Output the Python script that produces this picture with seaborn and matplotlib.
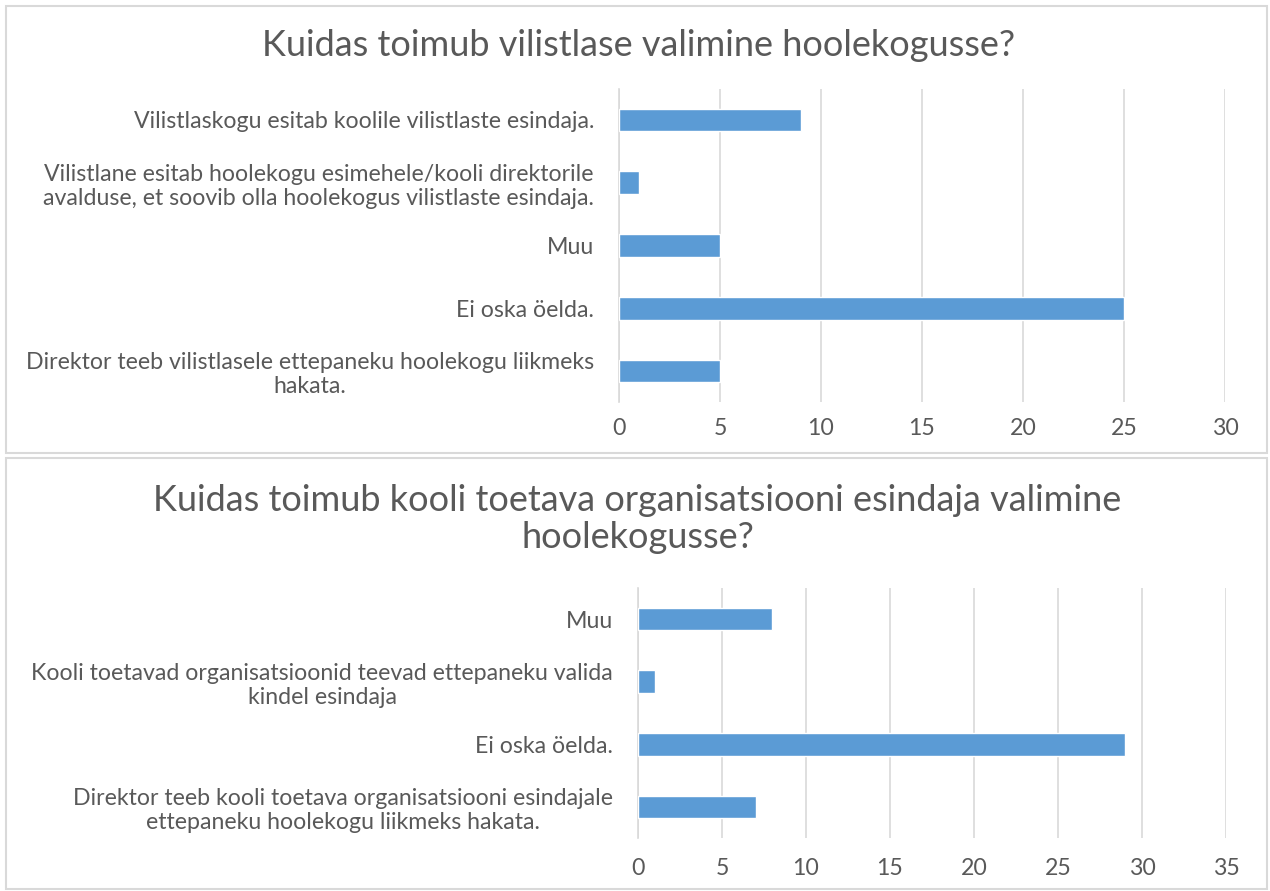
import pandas as pd
import matplotlib.pyplot as plt
import seaborn as sns
from matplotlib.patches import Rectangle

# top chart data
top_labels = [
    "Vilistlaskogu esitab koolile vilistlaste esindaja.",
    "Vilistlane esitab hoolekogu esimehele/kooli direktorile\navalduse, et soovib olla hoolekogus vilistlaste esindaja.",
    "Muu",
    "Ei oska öelda.",
    "Direktor teeb vilistlasele ettepaneku hoolekogu liikmeks\nhakata.",
]
top_values = [9, 1, 5, 25, 5]
top_ticks = [0, 5, 10, 15, 20, 25, 30]

# bottom chart data
bottom_labels = [
    "Muu",
    "Kooli toetavad organisatsioonid teevad ettepaneku valida\nkindel esindaja",
    "Ei oska öelda.",
    "Direktor teeb kooli toetava organisatsiooni esindajale\nettepaneku hoolekogu liikmeks hakata.",
]
bottom_values = [8, 1, 29, 7]
bottom_ticks = [0, 5, 10, 15, 20, 25, 30, 35]

top_title = "Kuidas toimub vilistlase valimine hoolekogusse?"
bottom_title = "Kuidas toimub kooli toetava organisatsiooni esindaja valimine\nhoolekogusse?"

BAR = "#5B9BD5"
TEXT = "#595959"
GRID = "#D9D9D9"

sns.set_style("white")
plt.rcParams['font.family'] = ['Lato', 'DejaVu Sans']

fig = plt.figure(figsize=(12.7, 8.91), dpi=100)

# panel frames
fig.add_artist(Rectangle((6/1270, 1-453/891), 1261/1270, 447/891, transform=fig.transFigure,
                         fill=False, edgecolor=GRID, lw=1.5))
fig.add_artist(Rectangle((6/1270, 1-889/891), 1261/1270, 431/891, transform=fig.transFigure,
                         fill=False, edgecolor=GRID, lw=1.5))


def draw(ax, labels, values, ticks, xpad):
    df = pd.DataFrame({"label": labels, "value": values})
    sns.barplot(data=df, x="value", y="label", orient="h", color=BAR,
                saturation=1, width=0.36, ax=ax, zorder=3)
    ax.set_xlim(ticks[0], ticks[-1])
    ax.set_xticks(ticks)
    ax.set_xlabel("")
    ax.set_ylabel("")
    ax.grid(axis="x", color=GRID, lw=1.2, zorder=0)
    ax.grid(axis="y", visible=False)
    for s in ["top", "right", "bottom"]:
        ax.spines[s].set_visible(False)
    ax.spines["left"].set_color(GRID)
    ax.spines["left"].set_linewidth(1.2)
    ax.tick_params(axis="both", length=0, labelsize=16.7, colors=TEXT)
    ax.tick_params(axis="x", pad=xpad)
    ax.tick_params(axis="y", pad=18)
    for t in ax.get_yticklabels():
        t.set_multialignment("center")
        t.set_linespacing(1.2)


ax1 = fig.add_axes([619/1270, 1-402.4/891, 606/1270, 313.8/891])
draw(ax1, top_labels, top_values, top_ticks, 11)

ax2 = fig.add_axes([638/1270, 1-838.3/891, 588/1270, 250.6/891])
draw(ax2, bottom_labels, bottom_values, bottom_ticks, 14)

fig.text(0.503, 1-45/891, top_title, ha="center", va="center", fontsize=26, color=TEXT)
fig.text(0.502, 1-519/891, bottom_title, ha="center", va="center", fontsize=26, color=TEXT,
         linespacing=1.12)

fig.savefig("out.png", dpi=100)
